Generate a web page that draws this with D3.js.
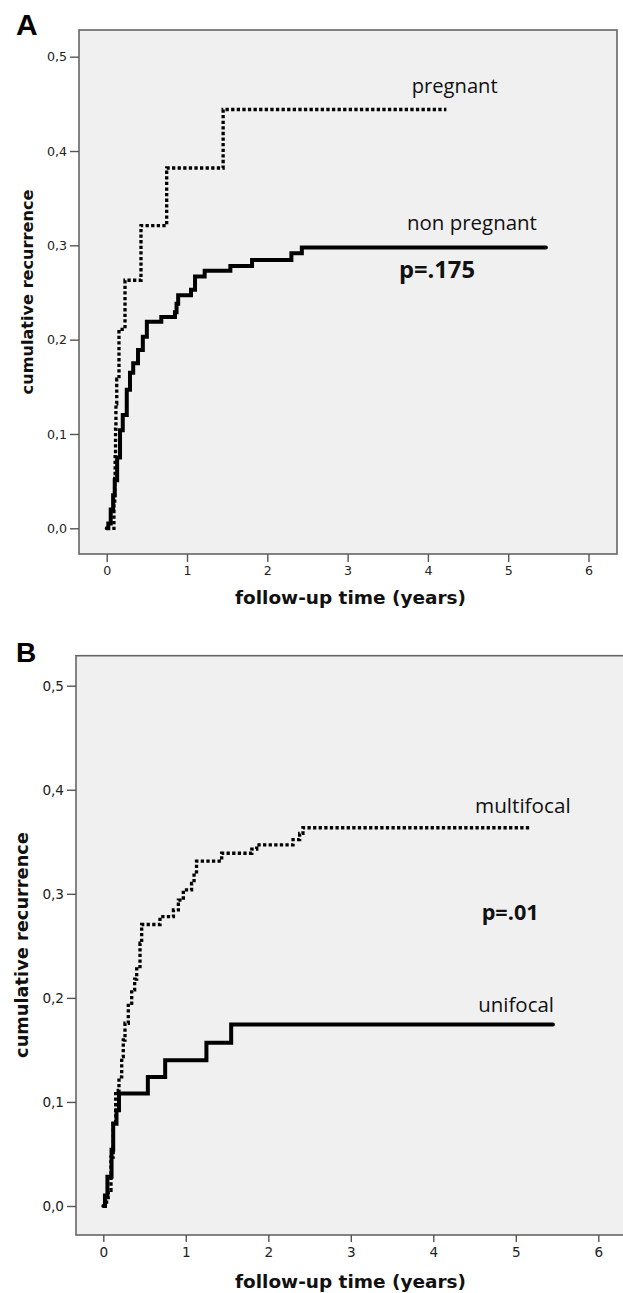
<!DOCTYPE html>
<html>
<head>
<meta charset="utf-8">
<script src="https://cdn.jsdelivr.net/npm/d3@7"></script>
<style>
  html, body { margin: 0; padding: 0; background: #ffffff; }
  svg { display: block; }
</style>
</head>
<body>
<svg id="chart" width="623" height="1293"></svg>
<script>
// ---------------- DATA ----------------
const xTicks = [0, 1, 2, 3, 4, 5, 6];
const yTicks = [0, 0.1, 0.2, 0.3, 0.4, 0.5];

// Panel A
const pregnantTime = [0, 0.09, 0.10, 0.105, 0.11, 0.115, 0.125, 0.153, 0.228, 0.427, 0.747, 1.45, 4.23];
const pregnantCum  = [0, 0.026, 0.053, 0.079, 0.105, 0.132, 0.158, 0.211, 0.263, 0.321, 0.382, 0.444, 0.444];

const nonPregnantTime = [0, 0.02, 0.05, 0.08, 0.10, 0.13, 0.166, 0.2, 0.25, 0.29, 0.33, 0.39, 0.45, 0.50, 0.68, 0.85, 0.87, 0.89, 1.05, 1.10, 1.22, 1.54, 1.81, 2.30, 2.43, 5.47];
const nonPregnantCum  = [0, 0.005, 0.02, 0.035, 0.051, 0.075, 0.104, 0.12, 0.147, 0.165, 0.175, 0.189, 0.203, 0.219, 0.224, 0.229, 0.238, 0.247, 0.253, 0.267, 0.273, 0.278, 0.2845, 0.2916, 0.2976, 0.2976];

// Panel B
const multifocalTime = [0, 0.04, 0.06, 0.093, 0.12, 0.15, 0.19, 0.223, 0.242, 0.263, 0.303, 0.344, 0.38, 0.405, 0.445, 0.465, 0.687, 0.85, 0.91, 0.97, 1.07, 1.10, 1.13, 1.435, 1.80, 1.86, 2.30, 2.38, 2.42, 5.17];
const multifocalCum  = [0, 0.008, 0.015, 0.047, 0.0795, 0.111, 0.124, 0.1435, 0.1595, 0.1756, 0.1948, 0.2076, 0.218, 0.230, 0.2525, 0.2705, 0.278, 0.2845, 0.294, 0.3037, 0.310, 0.321, 0.3315, 0.339, 0.343, 0.347, 0.352, 0.358, 0.3635, 0.3635];

const unifocalTime = [0, 0.02, 0.05, 0.10, 0.12, 0.16, 0.19, 0.54, 0.75, 1.25, 1.55, 5.45];
const unifocalCum  = [0, 0.01, 0.028, 0.054, 0.079, 0.092, 0.108, 0.124, 0.140, 0.157, 0.1745, 0.1745];

const panelLetters = ["A", "B"];
const yTitle = "cumulative recurrence";
const xTitle = "follow-up time (years)";
const seriesLabelsA = ["pregnant", "non pregnant"];
const seriesLabelsB = ["multifocal", "unifocal"];
const pValues = ["p=.175", "p=.01"];

// ---------------- LAYOUT ----------------
const svg = d3.select("#chart");
const LABEL_FONT = "'Open Sans', 'Noto Sans', sans-serif";
const AXIS_FONT = "'DejaVu Sans', Verdana, sans-serif";

function fit(sel, targetW) {
  const w = sel.node().getComputedTextLength();
  const fs = parseFloat(sel.attr("font-size"));
  if (w > 0) sel.attr("font-size", fs * targetW / w);
  return sel;
}

const panels = [
  {
    letter: panelLetters[0], letterX: 16, letterY: 35, letterSize: 30,
    frame: { x0: 79, y0: 30, x1: 617, y1: 554 },
    xRange: [106.7, 588.5], yRange: [528.3, 56.7],
    tickFont: 12.6, xTickSize: 8, xTickPad: 4, yTickSize: 9, yTickPad: 3,
    yTitle: { x: 33.3, y: 292, w: 205, fs: 16 },
    xTitle: { x: 350.5, y: 604, w: 231, fs: 18 },
    series: [
      { t: pregnantTime, v: pregnantCum, dotted: true },
      { t: nonPregnantTime, v: nonPregnantCum, dotted: false }
    ],
    labels: [
      { text: seriesLabelsA[0], x: 411.7, y: 93, w: 86, bold: false, fs: 19 },
      { text: seriesLabelsA[1], x: 407, y: 230, w: 130, bold: false, fs: 19 },
      { text: pValues[0], x: 399, y: 278, w: 76, bold: true, fs: 21 }
    ]
  },
  {
    letter: panelLetters[1], letterX: 16, letterY: 662, letterSize: 28,
    frame: { x0: 76, y0: 655.7, x1: 628, y1: 1235 },
    xRange: [103.3, 598.3], yRange: [1206, 685.7],
    tickFont: 13.6, xTickSize: 7, xTickPad: 5, yTickSize: 9, yTickPad: 3,
    yTitle: { x: 28.3, y: 945, w: 226, fs: 18 },
    xTitle: { x: 350.5, y: 1288, w: 231, fs: 18 },
    series: [
      { t: multifocalTime, v: multifocalCum, dotted: true },
      { t: unifocalTime, v: unifocalCum, dotted: false }
    ],
    labels: [
      { text: seriesLabelsB[0], x: 475, y: 812.7, w: 95.7, bold: false, fs: 20 },
      { text: pValues[1], x: 481.7, y: 920, w: 57, bold: true, fs: 21 },
      { text: seriesLabelsB[1], x: 478.3, y: 1012, w: 75.7, bold: false, fs: 20 }
    ]
  }
];

const fmt = d => d3.format(".1f")(d).replace(".", ",");

panels.forEach(p => {
  const g = svg.append("g");
  const f = p.frame;
  const x = d3.scaleLinear().domain([0, 6]).range(p.xRange);
  const y = d3.scaleLinear().domain([0, 0.5]).range(p.yRange);

  g.append("rect")
    .attr("x", f.x0).attr("y", f.y0)
    .attr("width", f.x1 - f.x0).attr("height", f.y1 - f.y0)
    .attr("fill", "#f0f0f0")
    .attr("stroke", "#666").attr("stroke-width", 1.6);

  const ya = g.append("g").attr("transform", `translate(${f.x0},0)`)
    .call(d3.axisLeft(y).tickValues(yTicks).tickFormat(fmt)
      .tickSize(p.yTickSize).tickPadding(p.yTickPad));
  ya.select(".domain").remove();
  ya.selectAll("line").attr("stroke", "#555").attr("stroke-width", 1.4);
  ya.selectAll("text").attr("font-family", AXIS_FONT).attr("font-size", p.tickFont).attr("fill", "#222");

  const xa = g.append("g").attr("transform", `translate(0,${f.y1})`)
    .call(d3.axisBottom(x).tickValues(xTicks).tickFormat(d3.format("d"))
      .tickSize(p.xTickSize).tickPadding(p.xTickPad));
  xa.select(".domain").remove();
  xa.selectAll("line").attr("stroke", "#555").attr("stroke-width", 1.4);
  xa.selectAll("text").attr("font-family", AXIS_FONT).attr("font-size", p.tickFont).attr("fill", "#222");

  const line = d3.line().curve(d3.curveStepAfter)
    .x(d => x(d[0])).y(d => y(d[1]));
  p.series.forEach(s => {
    const pts = s.t.map((t, i) => [t, s.v[i]]);
    const path = g.append("path").datum(pts)
      .attr("d", line)
      .attr("fill", "none")
      .attr("stroke", "#000");
    if (s.dotted) {
      path.attr("stroke-width", 3.3).attr("stroke-dasharray", "3.3,2.3").attr("stroke-linecap", "butt");
    } else {
      path.attr("stroke-width", 4).attr("stroke-linecap", "round").attr("stroke-linejoin", "miter");
    }
  });

  p.labels.forEach(l => {
    const t = g.append("text")
      .attr("x", l.x).attr("y", l.y)
      .attr("font-family", LABEL_FONT)
      .attr("font-weight", l.bold ? "bold" : "normal")
      .attr("font-size", l.fs)
      .attr("fill", "#111")
      .text(l.text);
    fit(t, l.w);
  });

  const yt = g.append("text")
    .attr("transform", `translate(${p.yTitle.x},${p.yTitle.y}) rotate(-90)`)
    .attr("text-anchor", "middle")
    .attr("font-family", AXIS_FONT).attr("font-weight", "bold")
    .attr("font-size", p.yTitle.fs).attr("fill", "#111")
    .text(yTitle);
  fit(yt, p.yTitle.w);

  const xt = g.append("text")
    .attr("x", p.xTitle.x).attr("y", p.xTitle.y)
    .attr("text-anchor", "middle")
    .attr("font-family", AXIS_FONT).attr("font-weight", "bold")
    .attr("font-size", p.xTitle.fs).attr("fill", "#111")
    .text(xTitle);
  fit(xt, p.xTitle.w);

  g.append("text")
    .attr("x", p.letterX).attr("y", p.letterY)
    .attr("font-family", "'Liberation Sans', Arial, sans-serif")
    .attr("font-weight", "bold")
    .attr("font-size", p.letterSize)
    .attr("fill", "#000")
    .text(p.letter);
});
</script>
</body>
</html>
